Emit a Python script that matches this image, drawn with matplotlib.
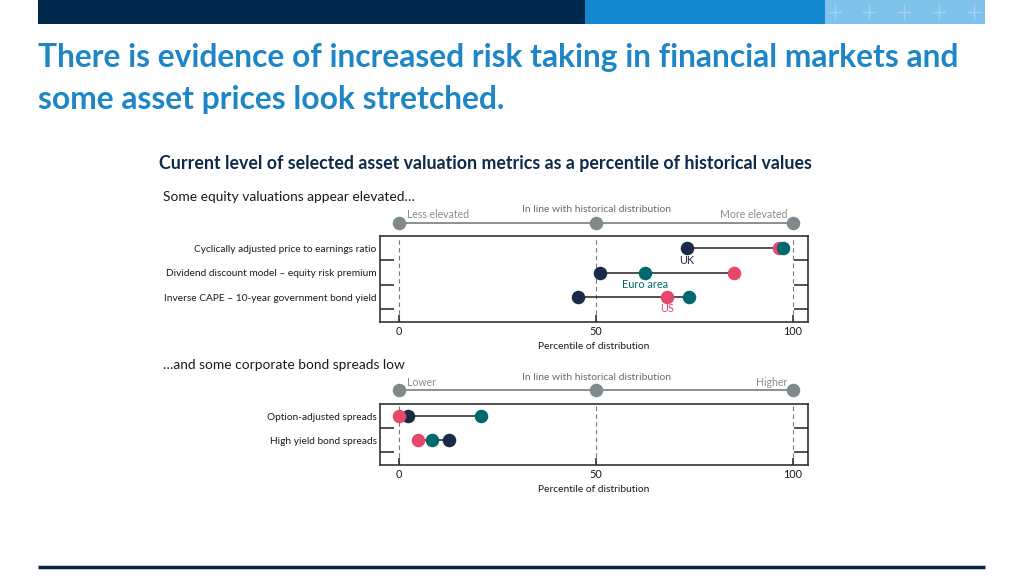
import matplotlib
matplotlib.use("Agg")
import matplotlib.pyplot as plt
from matplotlib.transforms import blended_transform_factory

# ---------------- data ----------------
equity_rows = ["Cyclically adjusted price to earnings ratio",
               "Dividend discount model \u2013 equity risk premium",
               "Inverse CAPE \u2013 10-year government bond yield"]
equity_uk = [73, 51, 45.5]
equity_ea = [97.5, 62.5, 73.5]
equity_us = [96.5, 85, 68]

bond_rows = ["Option-adjusted spreads", "High yield bond spreads"]
bond_uk = [2.3, 12.7]
bond_ea = [20.8, 8.4]
bond_us = [0, 4.8]

xticks = [0, 50, 100]
top_header = ["Less elevated", "In line with historical distribution", "More elevated"]
bot_header = ["Lower", "In line with historical distribution", "Higher"]

NAVY = "#1b2a47"
TEAL = "#00676c"
PINK = "#e4486c"
GREY = "#7f8a8c"
LGREY = "#8c8c8c"
TXT = "#1a1a1a"

plt.rcParams['font.family'] = ['Lato', 'DejaVu Sans']

W, H = 1024, 576
fig = plt.figure(figsize=(W / 100, H / 100), dpi=100)


def fx(px):
    return px / W


def fy(py):
    return 1 - py / H


# ---------------- decorations ----------------
deco = fig.add_axes([0, 0, 1, 1])
deco.set_xlim(0, W)
deco.set_ylim(H, 0)
deco.axis("off")
deco.add_patch(plt.Rectangle((38, 0), 585 - 38, 24, color="#00274c", lw=0))
deco.add_patch(plt.Rectangle((585, 0), 825 - 585, 24, color="#1589d0", lw=0))
deco.add_patch(plt.Rectangle((825, 0), 985 - 825, 24, color="#7fc3ec", lw=0))
for cx in [835, 869, 904, 939, 974]:
    deco.plot([cx - 6, cx + 6], [12, 12], color="#a3d3f1", lw=1.0)
    deco.plot([cx, cx], [5, 19], color="#a3d3f1", lw=1.0)
deco.plot([38, 985], [567, 567], color="#00274c", lw=2.5, solid_capstyle="butt")

fig.text(fx(38), fy(57), "There is evidence of increased risk taking in financial markets and",
         fontsize=22.9, fontweight="bold", color="#1e86c6", va="center", ha="left")
fig.text(fx(38), fy(99), "some asset prices look stretched.",
         fontsize=22.9, fontweight="bold", color="#1e86c6", va="center", ha="left")
fig.text(fx(485.5), fy(164),
         "Current level of selected asset valuation metrics as a percentile of historical values",
         fontsize=12.8, fontweight="bold", color="#0d2a4a", va="center", ha="center")
fig.text(fx(163), fy(197), "Some equity valuations appear elevated\u2026",
         fontsize=9.9, color=TXT, va="center", ha="left")
fig.text(fx(163), fy(365), "\u2026and some corporate bond spreads low",
         fontsize=9.9, color=TXT, va="center", ha="left")

X0, X1 = 380, 808
P0, P100 = 399, 793
scale = (P100 - P0) / 100.0
xlim = ((X0 - P0) / scale, (X1 - P0) / scale)


def header(ytop, ybot, yline, labels, ylab_side, ylab_mid):
    hax = fig.add_axes([fx(X0), fy(ybot), fx(X1 - X0), (ybot - ytop) / H])
    hax.set_xlim(*xlim)
    hax.set_ylim(ybot, ytop)
    hax.axis("off")
    hax.plot([0, 100], [yline, yline], color=GREY, lw=1.3, zorder=1)
    hax.scatter([0, 50, 100], [yline] * 3, s=95, color=GREY, zorder=2, lw=0)
    hax.text(2, ylab_side, labels[0], fontsize=7.6, color=LGREY, ha="left", va="center")
    hax.text(50, ylab_mid, labels[1], fontsize=7.5, color="#6a6a6a", ha="center", va="center")
    hax.text(98.5, ylab_side, labels[2], fontsize=7.6, color=LGREY, ha="right", va="center")


def panel(ytop, ybot, rows, uk, ea, us, row_y0, spacing, country_labels):
    ax = fig.add_axes([fx(X0), fy(ybot), fx(X1 - X0), (ybot - ytop) / H])
    ax.set_xlim(*xlim)
    n = len(rows)
    top = -(row_y0 - ytop) / spacing
    bot = (n - 1) + (ybot - (row_y0 + (n - 1) * spacing)) / spacing
    ax.set_ylim(bot, top)
    for s in ax.spines.values():
        s.set_color("#333333")
        s.set_linewidth(1.2)
    ax.set_yticks([i + 0.5 for i in range(n)])
    ax.set_yticklabels([])
    ax.tick_params(axis="y", direction="in", length=10, width=1.2, left=True, right=True,
                   color="#333333")
    ax.set_xticks(xticks)
    ax.set_xticklabels([str(t) for t in xticks], fontsize=7.8, color=TXT)
    ax.tick_params(axis="x", direction="in", length=5, width=1.2, pad=3, color="#333333")
    ax.set_xlabel("Percentile of distribution", fontsize=7.4, color=TXT, labelpad=3.5)
    for t in xticks:
        ax.axvline(t, color="#777777", lw=0.8, ls=(0, (4, 3)), zorder=1)
    tr = blended_transform_factory(ax.transAxes, ax.transData)
    for i, lab in enumerate(rows):
        ax.text(-0.008, i + 0.06, lab, transform=tr, fontsize=7.3, color=TXT,
                ha="right", va="center")
        vals = [uk[i], ea[i], us[i]]
        ax.plot([min(vals), max(vals)], [i, i], color="#222222", lw=1.1, zorder=2)
        ax.scatter([uk[i]], [i], s=95, color=NAVY, zorder=3, lw=0)
        ax.scatter([us[i]], [i], s=95, color=PINK, zorder=4, lw=0)
        ax.scatter([ea[i]], [i], s=95, color=TEAL, zorder=5, lw=0)
    if country_labels:
        ax.text(uk[0], 0.5, "UK", fontsize=7.8, color=NAVY, ha="center", va="center", zorder=6)
        ax.text(ea[1], 1.47, "Euro area", fontsize=7.8, color=TEAL, ha="center", va="center", zorder=6)
        ax.text(us[2], 2.45, "US", fontsize=7.8, color=PINK, ha="center", va="center", zorder=6)
    return ax


header(203, 232, 223, top_header, 215, 209)
panel(236, 322, equity_rows, equity_uk, equity_ea, equity_us, 248, 24.5, True)
header(371, 400, 390, bot_header, 383, 377)
panel(404, 465, bond_rows, bond_uk, bond_ea, bond_us, 416, 24.0, False)

fig.savefig("out.png", dpi=100)
